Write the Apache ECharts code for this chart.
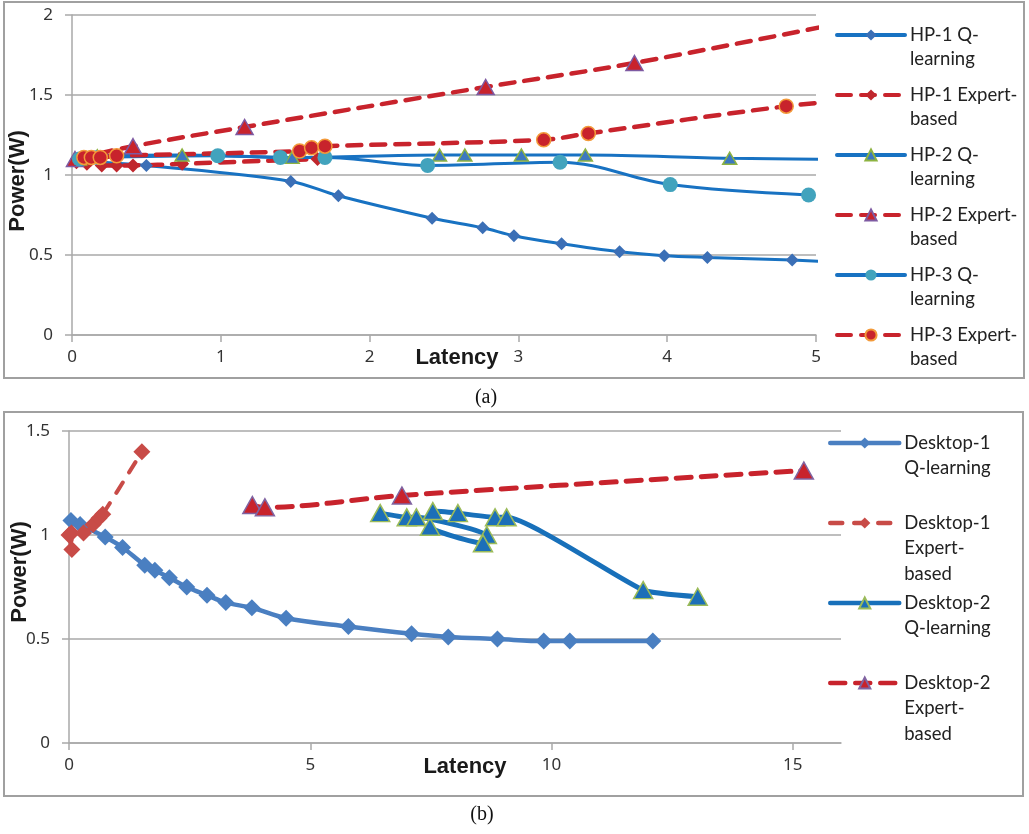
<!DOCTYPE html>
<html><head><meta charset="utf-8">
<script src="https://cdn.jsdelivr.net/npm/echarts@6/dist/echarts.min.js"></script>
<style>html,body{margin:0;padding:0;background:#fff}#c{width:1029px;height:834px}</style>
</head><body><div id="c"></div>
<script>
// ---------- data: panel (a) ----------
const topNames = ['HP-1 Q-learning','HP-1 Expert-based','HP-2 Q-learning','HP-2 Expert-based','HP-3 Q-learning','HP-3 Expert-based'];
const topLegendLabels = ['HP-1 Q-\nlearning','HP-1 Expert-\nbased','HP-2 Q-\nlearning','HP-2 Expert-\nbased','HP-3 Q-\nlearning','HP-3 Expert-\nbased'];
const hp1Q = [[0.03,1.1],[0.1,1.09],[0.2,1.08],[0.5,1.06],[1.47,0.96],[1.79,0.87],[2.42,0.73],[2.76,0.67],[2.97,0.62],[3.29,0.57],[3.68,0.52],[3.98,0.496],[4.27,0.485],[4.84,0.468],[5.5,0.44]];
const hp1E = [[0.03,1.08],[0.1,1.07],[0.2,1.06],[0.3,1.06],[0.41,1.06],[0.74,1.07],[1.65,1.1]];
const hp2Q = [[0.05,1.1],[0.17,1.12],[0.74,1.125],[1.48,1.11],[2.47,1.125],[2.64,1.125],[3.02,1.125],[3.45,1.125],[4.42,1.105],[5.5,1.095]];
const hp2E = [[0.02,1.1],[0.41,1.18],[1.16,1.3],[2.78,1.55],[3.78,1.7],[5.5,2.01]];
const hp3Q = [[0.05,1.1],[0.17,1.11],[0.98,1.12],[1.40,1.11],[1.70,1.11],[2.39,1.06],[3.28,1.08],[4.02,0.94],[4.95,0.875]];
const hp3E = [[0.08,1.11],[0.13,1.11],[0.19,1.11],[0.30,1.12],[1.53,1.15],[1.61,1.17],[1.70,1.18],[3.17,1.22],[3.47,1.26],[4.80,1.43],[5.5,1.49]];
const xTicksTop = [0,1,2,3,4,5];
const yTicksTop = [0,0.5,1,1.5,2];

// ---------- data: panel (b) ----------
const botNames = ['Desktop-1 Q-learning','Desktop-1 Expert-based','Desktop-2 Q-learning','Desktop-2 Expert-based'];
const botLegendLabels = ['Desktop-1\nQ-learning','Desktop-1\nExpert-\nbased','Desktop-2\nQ-learning','Desktop-2\nExpert-\nbased'];
const d1Q = [[0.04,1.07],[0.23,1.05],[0.75,0.99],[1.11,0.94],[1.57,0.855],[1.78,0.83],[2.08,0.795],[2.44,0.75],[2.86,0.71],[3.25,0.675],[3.79,0.65],[4.5,0.60],[5.79,0.56],[7.1,0.525],[7.86,0.51],[8.88,0.50],[9.84,0.49],[10.38,0.49],[12.1,0.49]];
const d1E = [[0.0,1.0],[0.06,0.93],[0.05,1.01],[0.3,1.01],[0.5,1.05],[0.62,1.08],[0.7,1.1],[1.51,1.4]];
const d2Q = [[6.45,1.105],[7.0,1.085],[7.2,1.085],[8.66,1.0],[8.58,0.96],[7.48,1.04],[7.54,1.115],[8.06,1.105],[8.83,1.085],[9.07,1.085],[11.9,0.735],[13.03,0.703]];
const d2E = [[3.8,1.144],[4.06,1.133],[6.9,1.19],[15.23,1.31]];
const xTicksBot = [0,5,10,15];
const yTicksBot = [0,0.5,1,1.5];

const captions = ['(a)','(b)'];
const axisTitleX = 'Latency';
const axisTitleY = 'Power(W)';

// ---------- styling ----------
const gridGray = '#A9A9A9';
const tickFont = {fontFamily:'Noto Sans', fontSize:17, color:'#333'};
const titleStyle = {fontFamily:'Liberation Sans', fontSize:22, fontWeight:'bold', fill:'#1a1a1a', align:'center', verticalAlign:'middle'};

function xAxisCfg(idx, max, interval, ticks){
  return {type:'value', gridIndex:idx, min:0, max:max, interval:interval,
    axisLine:{show:true, onZero:false, lineStyle:{color:gridGray, width:1.5}},
    axisTick:{show:true, length:7, customValues:ticks, lineStyle:{color:gridGray, width:1.5}},
    axisLabel:Object.assign({margin:14, customValues:ticks}, tickFont),
    splitLine:{show:false}};
}
function yAxisCfg(idx, max, ticks){
  return {type:'value', gridIndex:idx, min:0, max:max, interval:0.5,
    axisLine:{show:true, lineStyle:{color:gridGray, width:1.5}},
    axisTick:{show:true, length:7, lineStyle:{color:gridGray, width:1.5}},
    axisLabel:Object.assign({margin:19, customValues:ticks}, tickFont),
    splitLine:{show:true, lineStyle:{color:gridGray, width:1.5}}};
}
function ser(name, data, gi, o){
  return {type:'line', name:name, data:data, xAxisIndex:gi, yAxisIndex:gi,
    smooth:(o.smooth!=null?o.smooth:0.35), clip:true, symbol:o.symbol, symbolSize:o.size,
    lineStyle:{color:o.line, width:o.width, type:o.dash||'solid', cap:'round'},
    itemStyle:{color:o.fill, borderColor:o.border||o.fill, borderWidth:o.bw||0},
    emphasis:{disabled:true}, animation:false};
}
const red = '#C8232C';
const series = [
  ser(topNames[0], hp1Q, 0, {symbol:'diamond', size:13, line:'#1872C2', width:3, fill:'#3B6FB6'}),
  ser(topNames[1], hp1E, 0, {symbol:'diamond', size:14, line:red, width:4.5, dash:[14,10], fill:'#C0272D'}),
  ser(topNames[2], hp2Q, 0, {symbol:'triangle', size:[14,12], line:'#1872C2', width:3, fill:'#3C78C0', border:'#8DB341', bw:1.5}),
  ser(topNames[3], hp2E, 0, {symbol:'triangle', size:[17,15], line:red, width:4.5, dash:[14,10], fill:red, border:'#7E5AA2', bw:1.5}),
  ser(topNames[4], hp3Q, 0, {symbol:'circle', size:15, line:'#1872C2', width:3, fill:'#42A3BD'}),
  ser(topNames[5], hp3E, 0, {symbol:'circle', size:14, line:red, width:4.5, dash:[14,10], fill:red, border:'#F39A3A', bw:1.5}),
  ser(botNames[0], d1Q, 1, {symbol:'diamond', size:17, line:'#4A7FC1', width:4.5, fill:'#4A7FC1'}),
  ser(botNames[1], d1E, 1, {symbol:'diamond', size:17, line:'#C84B47', width:4, dash:[12,12], fill:'#C84B47'}),
  ser(botNames[2], d2Q, 1, {symbol:'triangle', size:[19,17], line:'#1870BA', width:5, fill:'#1C6FB8', border:'#9BBB59', bw:1.5, smooth:0.15}),
  ser(botNames[3], d2E, 1, {symbol:'triangle', size:[19,17], line:red, width:5, dash:[15,10], fill:red, border:'#8064A2', bw:1.5})
];
const legendText = {fontFamily:'Lato', fontSize:18.5, color:'#222'};
// pad each label with empty lines above so that its first line sits level with the legend icon
function padLabel(lbl){ const n = lbl.split('\n').length; return '\n'.repeat(n-1) + lbl; }
const option = {
  backgroundColor:'#fff',
  animation:false,
  grid:[{left:72, top:15, width:744, height:320, outerBoundsMode:'none', containLabel:false},
        {left:69, top:431, width:772, height:312, outerBoundsMode:'none', containLabel:false}],
  xAxis:[xAxisCfg(0,5,1,xTicksTop), xAxisCfg(1,16,5,xTicksBot)],
  yAxis:[yAxisCfg(0,2,yTicksTop), yAxisCfg(1,1.5,yTicksBot)],
  legend:[
    {data:topNames, orient:'vertical', left:835, top:-1, padding:0, itemGap:-12, itemWidth:68, itemHeight:14,
     selectedMode:false, textStyle:Object.assign({lineHeight:24}, legendText), lineStyle:{width:4},
     formatter:n => padLabel(topLegendLabels[topNames.indexOf(n)])},
    {data:botNames, orient:'vertical', left:828, top:404.75, padding:0, itemGap:-22, itemWidth:69, itemHeight:14,
     selectedMode:false, textStyle:Object.assign({lineHeight:25.5}, legendText), lineStyle:{width:4.5},
     formatter:n => padLabel(botLegendLabels[botNames.indexOf(n)])}
  ],
  graphic:[
    {type:'rect', shape:{x:4, y:2, width:1020, height:376}, style:{fill:'none', stroke:'#A0A0A0', lineWidth:2}, silent:true},
    {type:'rect', shape:{x:4, y:412, width:1019, height:384}, style:{fill:'none', stroke:'#A0A0A0', lineWidth:2}, silent:true},
    {type:'text', x:457, y:358, style:Object.assign({text:axisTitleX}, titleStyle), silent:true},
    {type:'text', x:465, y:767, style:Object.assign({text:axisTitleX}, titleStyle), silent:true},
    {type:'text', x:18, y:181, rotation:Math.PI/2, style:Object.assign({text:axisTitleY}, titleStyle), silent:true},
    {type:'text', x:20, y:572, rotation:Math.PI/2, style:Object.assign({text:axisTitleY}, titleStyle), silent:true},
    {type:'text', x:486, y:398, style:{text:captions[0], fontFamily:'Liberation Serif', fontSize:20, fill:'#111', align:'center', verticalAlign:'middle'}, silent:true},
    {type:'text', x:482, y:815, style:{text:captions[1], fontFamily:'Liberation Serif', fontSize:20, fill:'#111', align:'center', verticalAlign:'middle'}, silent:true}
  ],
  series:series
};
const chart = echarts.init(document.getElementById('c'), null, {renderer:'canvas'});
chart.setOption(option);
</script></body></html>
